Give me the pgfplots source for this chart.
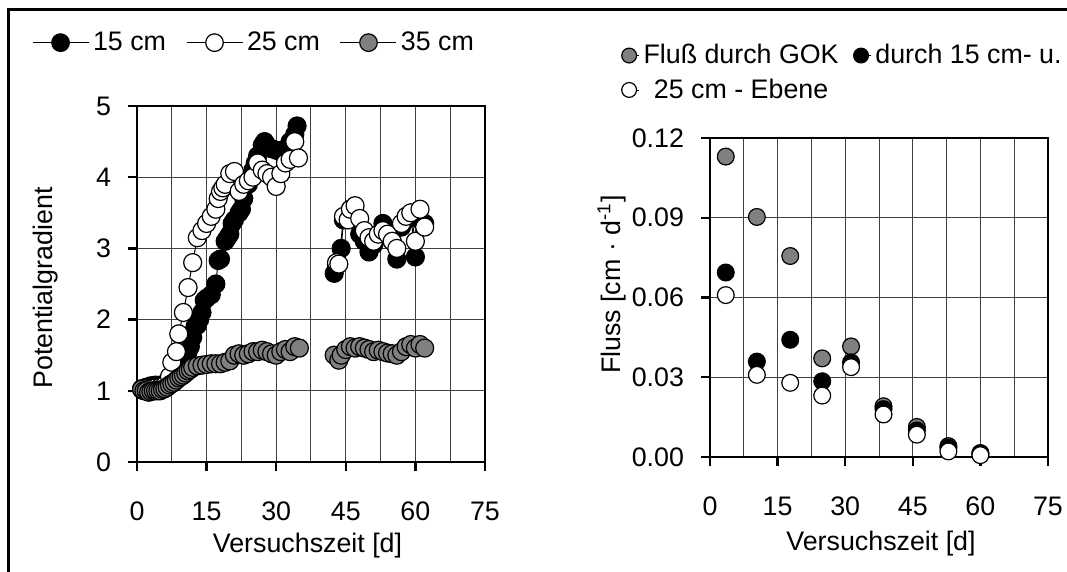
\documentclass[border=0pt]{standalone}
\usepackage{fontspec}
\setmainfont{Liberation Sans}
\usepackage{pgfplots}
\pgfplotsset{compat=1.18}
\definecolor{mgray}{RGB}{128,128,128}
\pgfplotsset{every axis/.append style={font=\fontsize{13.4}{16}\selectfont},
  common/.style={
   scale only axis,
   xmin=0, xmax=75, xtick={0,15,30,45,60,75},
   minor x tick num=1, xminorgrids, xmajorgrids, ymajorgrids,
   grid style={black!75, line width=0.5pt},
   axis line style={line width=1.2pt},
   tick align=outside, major tick length=4.5pt, minor tick length=0pt,
   tick style={black, line width=1.2pt},
   xtick pos=left, ytick pos=left,
   xticklabel style={yshift=-12pt},
   yticklabel style={xshift=-5pt},
   /pgf/number format/assume math mode=true,
   clip=false,
   legend style={draw=none, fill=none},
  }}
\begin{document}
\begin{tikzpicture}
\useasboundingbox (0,0) rectangle (533.5pt,-286pt);
\draw[line width=1.5pt] (4pt,-286pt) -- (4pt,-5pt) -- (533.5pt,-5pt);
\begin{axis}[common,
 width=174pt, height=178pt, at={(68.5pt,-231pt)}, anchor=south west,
 ymin=0, ymax=5, ytick={0,1,2,3,4,5},
 every axis x label/.style={at={(axis description cs:0.49,-0.235)}, anchor=center},
 every axis y label/.style={at={(axis description cs:-0.264,0.489)}, anchor=center, rotate=90},
 xlabel={Versuchszeit [d]}, ylabel={Potentialgradient},
 unbounded coords=jump,
 legend columns=3,
 legend style={at={(-0.32,1.178)}, anchor=west,
   /tikz/every even column/.append style={column sep=8pt}},
 legend image code/.code={\draw[mark repeat=2,mark phase=2,#1,mark size=4.4pt] plot coordinates {(0pt,0pt) (14pt,0pt) (28pt,0pt)};},
]
\addplot[black, line width=0.5pt, mark=*, mark size=4.5pt, mark options={draw=black, fill=black, line width=0.6pt}] table {
x y
1 1.03
2 1.05
3 1.07
4 1.08
5 1.08
6 1.1
7 1.1
8 1.15
9 1.2
10 1.3
10.5 1.45
11 1.55
11.5 1.62
12 1.75
12.5 1.9
13 1.92
13.5 2.0
14 2.1
14.5 2.27
15 2.3
16 2.35
17 2.5
17.5 2.83
18 2.85
19 3.1
19.5 3.15
20 3.2
20.5 3.35
21 3.4
22 3.5
22.5 3.55
23 3.7
24 3.9
25 4.1
25.5 4.2
26 4.3
27 4.45
27.5 4.5
28 4.45
29 4.4
30 4.38
31 4.35
32 4.4
33 4.5
34 4.6
34.5 4.72
38 nan
42.5 2.65
43 2.78
44 3.0
44.5 3.4
45 3.45
46 3.55
47 3.5
48 3.2
49 3.1
50 2.95
51 3.05
52 3.2
53 3.35
54 3.25
55 3.1
56 2.85
57 3.3
58 3.4
59 3.45
60 2.88
61 3.4
62 3.35
};
\addlegendentry{15 cm}
\addplot[black, line width=0.5pt, mark=*, mark size=4.5pt, mark options={draw=black, fill=white, line width=0.6pt}] table {
x y
1 1.02
2 1.03
3 1.03
4 1.04
5 1.05
6 1.08
7 1.2
7.5 1.4
8.5 1.55
9 1.8
10 2.1
11 2.45
12 2.8
13 3.15
14 3.25
15 3.35
16 3.45
17 3.55
17.5 3.7
18 3.8
18.5 3.85
19 3.9
20 4.05
21 4.08
22 3.8
23 3.9
24 3.95
25 4.0
26 4.2
27 4.1
28 4.05
29 4.0
30 3.87
31 4.05
32 4.2
33 4.25
34 4.5
34.8 4.27
38 nan
43 2.8
43.5 2.78
44.5 3.45
45.5 3.4
46 3.55
47 3.6
48 3.42
49 3.25
50 3.15
51 3.1
52 3.2
53 3.25
54 3.2
55 3.1
56 3.0
57 3.35
58 3.45
59 3.5
60 3.1
61 3.55
62 3.3
};
\addlegendentry{25 cm}
\addplot[black, line width=0.5pt, mark=*, mark size=4.5pt, mark options={draw=black, fill=mgray, line width=0.6pt}] table {
x y
1 1.02
1.5 1.0
2 1.0
2.5 0.98
3 0.99
3.5 1.0
4 1.0
4.5 1.0
5 1.0
5.5 1.02
6 1.03
6.5 1.05
7 1.08
7.5 1.1
8 1.12
8.5 1.15
9 1.18
9.5 1.2
10 1.22
10.5 1.25
11 1.28
11.5 1.3
12 1.33
13 1.35
14 1.36
15 1.37
16 1.38
17 1.38
18 1.38
19 1.4
20 1.42
21 1.5
22 1.52
23 1.5
24 1.52
25 1.55
26 1.55
27 1.57
28 1.55
29 1.52
30 1.5
31 1.55
32 1.58
33 1.55
34 1.62
35 1.6
38 nan
42.5 1.5
43.5 1.43
44 1.5
45 1.58
46 1.62
47 1.6
48 1.62
49 1.6
50 1.58
51 1.55
52 1.57
53 1.55
54 1.53
55 1.52
56 1.5
57 1.55
58 1.62
59 1.65
60 1.6
61 1.65
62 1.6
};
\addlegendentry{35 cm}
\end{axis}
\begin{axis}[common,
 width=169pt, height=159.5pt, at={(355pt,-228.5pt)}, anchor=south west,
 ymin=0, ymax=0.12, ytick={0,0.03,0.06,0.09,0.12},
 scaled y ticks=false,
 yticklabel style={/pgf/number format/.cd, fixed, fixed zerofill, precision=2},
 every axis x label/.style={at={(axis description cs:0.506,-0.27)}, anchor=center},
 every axis y label/.style={at={(axis description cs:-0.29,0.54)}, anchor=center, rotate=90},
 xlabel={Versuchszeit [d]}, ylabel={Fluss [cm · d\textsuperscript{-1}]},
 legend columns=2,
 legend style={at={(-0.283,1.32)}, anchor=north west,
   row sep=2pt, /tikz/every even column/.append style={column sep=5pt}},
 legend image code/.code={\path (0pt,0pt) -- (9pt,0pt); \draw[#1,mark size=3.7pt] plot coordinates {(4pt,0pt)};},
]
\addplot[only marks, mark=*, mark size=4.2pt, mark options={draw=black, fill=mgray, line width=0.6pt}] table {
x y
3.5 0.113
10.4 0.0903
17.8 0.0756
24.9 0.0371
31.3 0.0416
38.5 0.0191
45.9 0.0113
52.9 0.0041
60.0 0.0015
};
\addlegendentry{Fluß durch GOK}
\addplot[only marks, mark=*, mark size=4.2pt, mark options={draw=black, fill=black, line width=0.6pt}] table {
x y
3.5 0.0694
10.4 0.0359
17.8 0.0441
24.9 0.0285
31.3 0.0356
38.5 0.018
45.9 0.010
52.9 0.0035
60.0 0.0013
};
\addlegendentry{durch 15 cm- u.}
\addplot[only marks, mark=*, mark size=4.2pt, mark options={draw=black, fill=white, line width=0.6pt}] table {
x y
3.5 0.0609
10.4 0.0309
17.8 0.0279
24.9 0.0231
31.3 0.0338
38.5 0.016
45.9 0.0084
52.9 0.0021
60.0 0.0007
};
\addlegendentry{25 cm - Ebene}
\end{axis}
\end{tikzpicture}
\end{document}
